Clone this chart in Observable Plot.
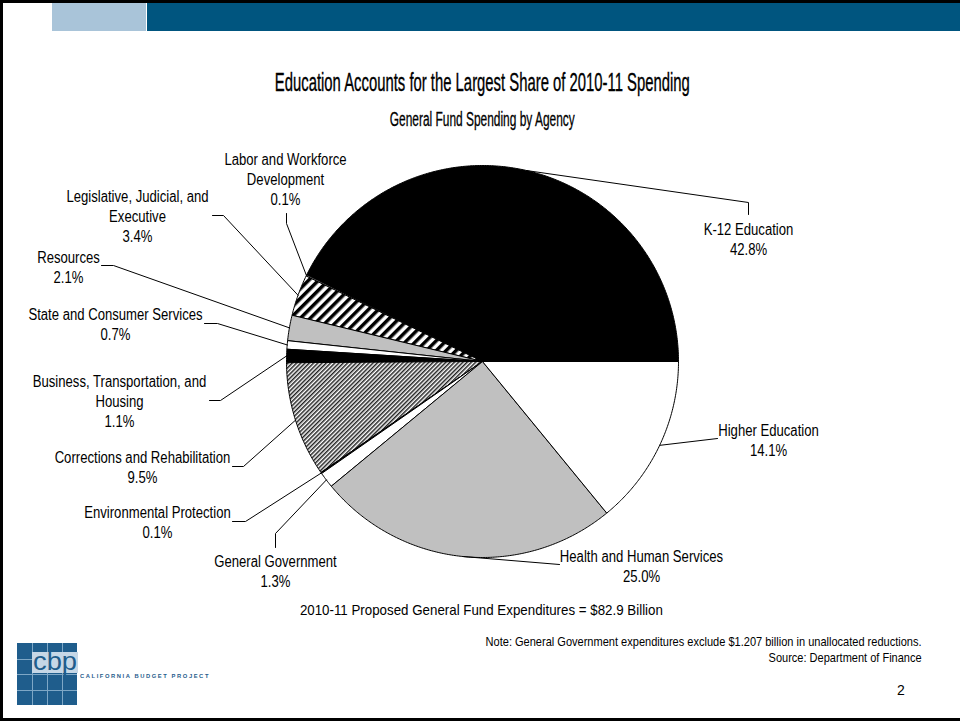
<!DOCTYPE html>
<html>
<head>
<meta charset="utf-8">
<script src="https://cdn.jsdelivr.net/npm/d3@7"></script>
<script src="https://cdn.jsdelivr.net/npm/@observablehq/plot@0.6"></script>
<style>
  html, body { margin: 0; padding: 0; background: #fff; }
  #slide { position: relative; width: 960px; height: 721px; overflow: hidden; background: #fff; color: #000;
           font-family: "Liberation Sans", Arial, sans-serif; }
  #header { position: relative; height: 140px; }
  #chart { position: relative; height: 460px; }
  #footer { position: relative; height: 121px; }
  .abs { position: absolute; }
  .txt { position: absolute; white-space: nowrap; }
</style>
</head>
<body>
<div id="slide">
  <div id="header"></div>
  <div id="chart"></div>
  <div id="footer"></div>
</div>
<script>
// ---------------- DATA ----------------
const agencies = [
  "K-12 Education",
  "Labor and Workforce Development",
  "Legislative, Judicial, and Executive",
  "Resources",
  "State and Consumer Services",
  "Business, Transportation, and Housing",
  "Corrections and Rehabilitation",
  "Environmental Protection",
  "General Government",
  "Health and Human Services",
  "Higher Education"
];
const shares = [42.8, 0.1, 3.4, 2.1, 0.7, 1.1, 9.5, 0.1, 1.3, 25.0, 14.1];
const labelLines = [
  "K-12 Education",
  "Labor and Workforce\nDevelopment",
  "Legislative, Judicial, and\nExecutive",
  "Resources",
  "State and Consumer Services",
  "Business, Transportation, and\nHousing",
  "Corrections and Rehabilitation",
  "Environmental Protection",
  "General Government",
  "Health and Human Services",
  "Higher Education"
];
const titleText = "Education Accounts for the Largest Share of 2010-11 Spending";
const subtitleText = "General Fund Spending by Agency";
const captionText = "2010-11 Proposed General Fund Expenditures = $82.9 Billion";
const noteText = "Note: General Government expenditures exclude $1.207 billion in unallocated reductions.";
const sourceText = "Source: Department of Finance";
const pageNumber = "2";

// ---------------- STYLE / LAYOUT ----------------
const sliceFills = ["#000000", "#ffffff", "url(#wideHatch)", "#c0c0c0", "#ffffff", "#000000",
                    "url(#fineHatch)", "#000000", "#ffffff", "#c0c0c0", "#ffffff"];
const pie = {cx: 482, cy: 361, r: 196};          // page pixels
const labelPos = [[748, 238], [285, 178], [137, 215], [68, 266], [115, 323], [119, 400],
                  [142, 466], [157, 521], [275, 570], [641, 565], [768, 439]];
const leaderBends = [
  [[748, 214], [748, 202]],
  [[286, 213], [286, 223]],
  [[212, 215], [223, 215]],
  [[101, 265], [113, 265]],
  [[204, 323], [217, 323]],
  [[209, 400], [220, 400]],
  [[232, 466], [243, 466]],
  [[232, 521], [245, 521]],
  [[275, 547], [275, 533]],
  [[559, 564]],
  [[717, 438]]
];
const NARROW = 0.82;

// ---------------- PIE GEOMETRY ----------------
const arcs = d3.pie().sort(null).startAngle(Math.PI / 2).endAngle(Math.PI / 2 - 2 * Math.PI)(shares);
const pt = (a, rr) => [pie.cx + rr * Math.sin(a), pie.cy - rr * Math.cos(a)];

const slicePts = arcs.flatMap((a, i) => {
  const span = a.endAngle - a.startAngle;
  const n = Math.max(2, Math.ceil(Math.abs(span) / (Math.PI / 360)));
  const out = [{name: agencies[i], x: pie.cx, y: pie.cy}];
  for (let k = 0; k <= n; k++) {
    const [x, y] = pt(a.startAngle + span * k / n, pie.r);
    out.push({name: agencies[i], x, y});
  }
  out.push({name: agencies[i], x: pie.cx, y: pie.cy});
  return out;
});

const leaderPts = arcs.flatMap((a, i) => {
  const mid = (a.startAngle + a.endAngle) / 2;
  const [ex, ey] = pt(mid, pie.r);
  return [...leaderBends[i].map(([x, y]) => ({name: agencies[i], x, y})), {name: agencies[i], x: ex, y: ey}];
});

const labels = agencies.map((name, i) => ({
  name,
  x: labelPos[i][0],
  y: labelPos[i][1],
  text: `${labelLines[i]}\n${shares[i].toFixed(1)}%`
}));

const chart = Plot.plot({
  width: 960,
  height: 460,
  margin: 0,
  x: {domain: [0, 960], range: [0, 960], axis: null},
  y: {domain: [140, 600], range: [0, 460], axis: null},
  color: {domain: agencies, range: sliceFills},
  style: {background: "transparent", fontFamily: "Liberation Sans, Arial, sans-serif", overflow: "visible"},
  marks: [
    Plot.line(slicePts, {x: "x", y: "y", z: "name", fill: "name", stroke: "#000", strokeWidth: 1,
                         strokeLinejoin: "miter"}),
    Plot.line(leaderPts, {x: "x", y: "y", z: "name", stroke: "#000", strokeWidth: 1}),
    Plot.text(labels, {x: "x", y: "y", text: "text", fontSize: 16, lineHeight: 1.25,
                       textAnchor: "middle", lineAnchor: "middle", fill: "#000"})
  ]
});

// hatch patterns
const defs = d3.select(chart).insert("defs", ":first-child");
const wide = defs.append("pattern").attr("id", "wideHatch").attr("patternUnits", "userSpaceOnUse")
  .attr("width", 7).attr("height", 7).attr("patternTransform", "rotate(45)");
wide.append("rect").attr("width", 7).attr("height", 7).attr("fill", "#fff");
wide.append("rect").attr("width", 3.5).attr("height", 7).attr("fill", "#000");
const fine = defs.append("pattern").attr("id", "fineHatch").attr("patternUnits", "userSpaceOnUse")
  .attr("width", 3).attr("height", 3).attr("patternTransform", "rotate(45)");
fine.append("rect").attr("width", 3).attr("height", 3).attr("fill", "#fff");
fine.append("rect").attr("width", 1.5).attr("height", 3).attr("fill", "#222");

// narrow the label font (Arial Narrow look)
chart.querySelectorAll('g[aria-label="text"] text').forEach(t => {
  t.setAttribute("transform", (t.getAttribute("transform") || "") + ` scale(${NARROW},1)`);
});
document.getElementById("chart").appendChild(chart);

// ---------------- HTML TEXT / DECOR ----------------
const slide = document.getElementById("slide");
const header = document.getElementById("header");
const footer = document.getElementById("footer");

function box(parent, offY, {x, y, w, h, bg}) {
  const d = document.createElement("div");
  d.className = "abs";
  Object.assign(d.style, {left: x + "px", top: (y - offY) + "px", width: w + "px", height: h + "px", background: bg});
  parent.appendChild(d);
  return d;
}
function placeText(parent, offY, {text, x, baseline, size, align = "start", width, family, weight, color, spacing, stroke}) {
  const el = document.createElement("div");
  el.className = "txt";
  el.textContent = text;
  Object.assign(el.style, {
    fontSize: size + "px", lineHeight: size + "px",
    fontFamily: family || '"Liberation Sans", Arial, sans-serif',
    fontWeight: weight || "normal", color: color || "#000",
    letterSpacing: spacing ? spacing + "px" : "normal"
  });
  if (stroke) el.style.webkitTextStroke = stroke;
  parent.appendChild(el);
  const w = el.getBoundingClientRect().width;
  const s = width ? width / w : 1;
  const left = align === "middle" ? x - w / 2 : align === "end" ? x - w : x;
  el.style.left = left + "px";
  el.style.top = (baseline - offY - 0.8465 * size) + "px";
  el.style.transformOrigin = align === "middle" ? "50% 0" : align === "end" ? "100% 0" : "0 0";
  el.style.transform = `scaleX(${s})`;
  return el;
}

// banner
box(header, 0, {x: 52, y: 3, w: 94, h: 28, bg: "#a9c4d9"});
box(header, 0, {x: 147, y: 3, w: 813, h: 28, bg: "#00557f"});

placeText(header, 0, {text: titleText, x: 482, baseline: 91, size: 25, align: "middle", width: 415, stroke: "0.35px #000"});
placeText(header, 0, {text: subtitleText, x: 482, baseline: 127, size: 19.5, align: "middle", width: 185, stroke: "0.3px #000"});

placeText(footer, 600, {text: captionText, x: 481, baseline: 615, size: 15, align: "middle", width: 363});
placeText(footer, 600, {text: noteText, x: 922, baseline: 646, size: 13.5, align: "end", width: 436});
placeText(footer, 600, {text: sourceText, x: 922, baseline: 662, size: 13.5, align: "end", width: 153});
placeText(footer, 600, {text: pageNumber, x: 901, baseline: 695, size: 14, align: "middle"});

// logo
box(footer, 600, {x: 17, y: 643, w: 60, h: 62, bg: "#1f5d8c"});
for (let k = 1; k < 4; k++) {
  box(footer, 600, {x: 17 + k * 15, y: 643, w: 1, h: 62, bg: "#7ea7c6"});
  box(footer, 600, {x: 17, y: 643 + k * 15.5, w: 60, h: 1, bg: "#7ea7c6"});
}
box(footer, 600, {x: 32, y: 652, w: 46, h: 21, bg: "#c6d7e6"});
placeText(footer, 600, {text: "cbp", x: 33, baseline: 670, size: 25, width: 44, color: "#1f5d8c"});
placeText(footer, 600, {text: "CALIFORNIA BUDGET PROJECT", x: 80, baseline: 679, size: 5.5, width: 130, weight: "bold", color: "#1f5d8c", spacing: 1.5});

// slide border
box(slide, 0, {x: 0, y: 0, w: 960, h: 3, bg: "#000"});
box(slide, 0, {x: 0, y: 0, w: 3, h: 721, bg: "#000"});
box(slide, 0, {x: 0, y: 718, w: 960, h: 3, bg: "#000"});
</script>
</body>
</html>
